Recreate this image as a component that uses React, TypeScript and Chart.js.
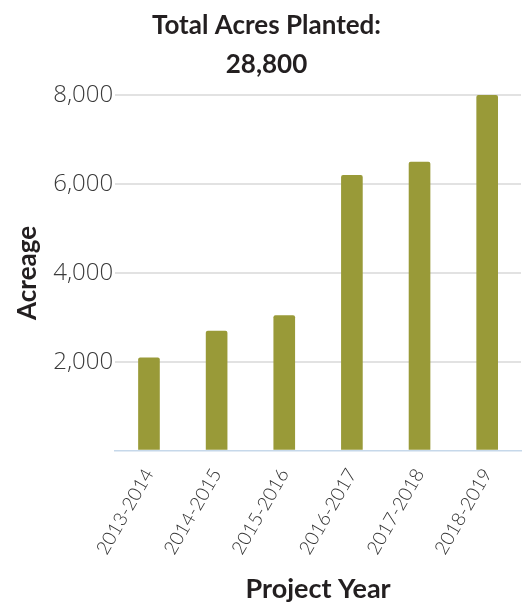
import React, { useEffect, useRef } from "react";
import { Chart, registerables } from "chart.js";

Chart.register(...registerables);

const categories = ["2013-2014", "2014-2015", "2015-2016", "2016-2017", "2017-2018", "2018-2019"];
const acreage = [2100, 2700, 3050, 6200, 6500, 8000];
const titleLines = ["Total Acres Planted:", "28,800"];
const yTicks = [0, 2000, 4000, 6000, 8000];

export default function App() {
  const ref = useRef<HTMLCanvasElement | null>(null);
  useEffect(() => {
    if (!ref.current) return;
    const chart = new Chart(ref.current, {
      type: "bar",
      data: {
        labels: categories,
        datasets: [
          {
            data: acreage,
            backgroundColor: "#999a38",
            borderWidth: 0,
            borderRadius: 2,
            borderSkipped: "bottom",
            barPercentage: 0.32,
            categoryPercentage: 1,
          },
        ],
      },
      options: {
        animation: false,
        responsive: true,
        maintainAspectRatio: false,
        layout: { padding: { left: 12, right: 3, top: 0, bottom: 0 } },
        plugins: {
          legend: { display: false },
          tooltip: { enabled: false },
          title: {
            display: true,
            text: titleLines,
            color: "#231f20",
            font: { family: "Lato", size: 26, weight: "bold", lineHeight: 1.5 },
            padding: { top: 6, bottom: 11 },
          },
        },
        scales: {
          x: {
            grid: { display: false },
            border: { display: true, color: "#c6d8ea", width: 1.5 },
            ticks: {
              color: "#333",
              font: { family: "Lato", size: 19, weight: 300 },
              maxRotation: 60,
              minRotation: 60,
              padding: 6,
            },
            title: {
              display: true,
              text: "Project Year",
              color: "#231f20",
              font: { family: "Lato", size: 27, weight: "bold" },
              padding: { top: 8, bottom: 0 },
            },
          },
          y: {
            min: yTicks[0],
            max: yTicks[yTicks.length - 1],
            afterBuildTicks: (axis: any) => {
              axis.ticks = yTicks.map((v) => ({ value: v }));
            },
            border: { display: false },
            grid: {
              color: (ctx: any) => (ctx.tick && ctx.tick.value === 0 ? "rgba(0,0,0,0)" : "#e2e2e2"),
              lineWidth: 2,
              drawTicks: false,
            },
            ticks: {
              color: "#3a3a3a",
              font: { family: "Open Sans", size: 24, weight: 300 },
              padding: 2,
              callback: (v: any) => (v === 0 ? "" : Number(v).toLocaleString("en-US")),
            },
            title: {
              display: true,
              text: "Acreage",
              color: "#231f20",
              font: { family: "Lato", size: 26, weight: "bold" },
              padding: { top: 0, bottom: 8 },
            },
          },
        },
      },
    });
    return () => chart.destroy();
  }, []);
  return (
    <div style={{ position: "fixed", left: 0, top: 0, width: 524, height: 605 }}>
      <canvas ref={ref} />
    </div>
  );
}
